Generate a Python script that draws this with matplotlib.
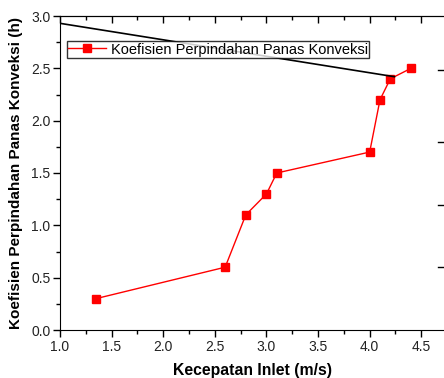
import matplotlib
matplotlib.use('Agg')
import matplotlib.pyplot as plt
from matplotlib.ticker import MultipleLocator
from matplotlib.lines import Line2D

plt.rcParams['font.family'] = ['Liberation Sans', 'DejaVu Sans']

kecepatan = [1.35, 2.6, 2.8, 3.0, 3.1, 4.0, 4.1, 4.2, 4.4]
koefisien = [0.3, 0.6, 1.1, 1.3, 1.5, 1.7, 2.2, 2.4, 2.5]
garis_x = [1.0, 4.24]
garis_y = [2.93, 2.42]

fig = plt.figure(figsize=(4.44, 3.78), dpi=100)
ax = fig.add_axes([60/444, 48/378, 384/444, 314/378])

ax.plot(kecepatan, koefisien, color='red', lw=1, marker='s', ms=5.5,
        label='Koefisien Perpindahan Panas Konveksi')
ax.plot(garis_x, garis_y, color='black', lw=1.2)

ax.set_xlim(1.0, 4.72)
ax.set_ylim(0, 3.0)
ax.xaxis.set_major_locator(MultipleLocator(0.5))
ax.xaxis.set_minor_locator(MultipleLocator(0.25))
ax.yaxis.set_major_locator(MultipleLocator(0.5))
ax.yaxis.set_minor_locator(MultipleLocator(0.25))
ax.tick_params(which='both', direction='out', labelsize=10, width=1, pad=2,
               labelcolor='#222222')
ax.tick_params(which='major', length=5)
ax.tick_params(which='minor', length=3)
ax.spines['right'].set_visible(False)

# ticks on the top spine point inward
sec = ax.secondary_xaxis('top')
sec.xaxis.set_major_locator(MultipleLocator(0.5))
sec.xaxis.set_minor_locator(MultipleLocator(0.25))
sec.tick_params(which='both', direction='in', labeltop=False, width=1)
sec.tick_params(which='major', length=5)
sec.tick_params(which='minor', length=3)

ax.set_xlabel('Kecepatan Inlet (m/s)', fontsize=11.3, fontweight='bold', labelpad=7)
ax.set_ylabel('Koefisien Perpindahan Panas Konveksi (h)', fontsize=11,
              fontweight='bold', labelpad=6)

leg = ax.legend(loc='upper left', bbox_to_anchor=(0.018, 0.92), fontsize=10.5,
                frameon=True, fancybox=False, borderpad=0.1, handlelength=2.6,
                handletextpad=0.3, borderaxespad=0)
leg.get_frame().set_edgecolor('black')
leg.get_frame().set_linewidth(1)

for yp in [70, 142, 205, 267]:
    fig.add_artist(Line2D([438/444, 444/444], [1 - yp/378, 1 - yp/378],
                          color='black', lw=1))

fig.savefig('out.png', dpi=100)
